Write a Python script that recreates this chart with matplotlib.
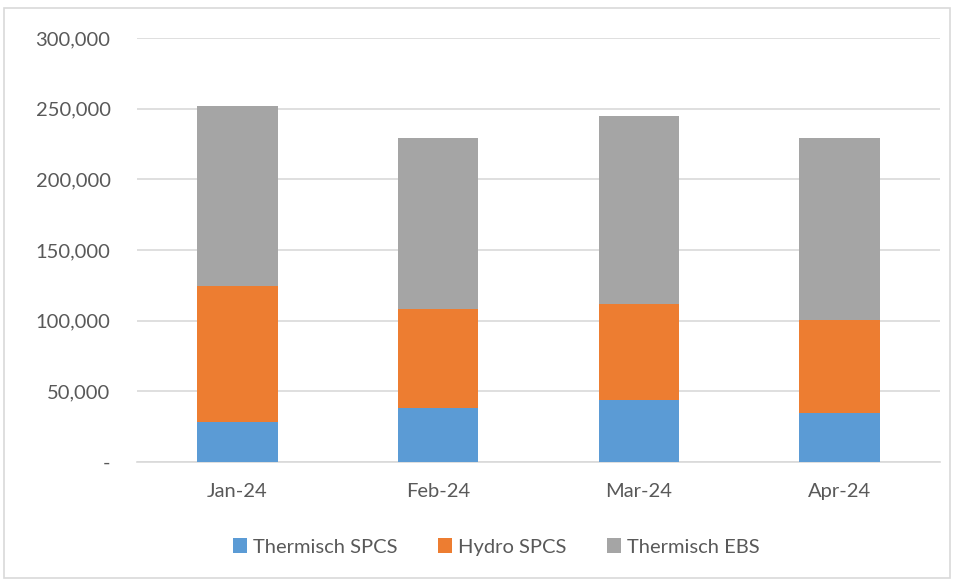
import matplotlib.pyplot as plt
import numpy as np
from matplotlib.patches import Rectangle

# data
months = ["Jan-24", "Feb-24", "Mar-24", "Apr-24"]
thermisch_spcs = [28200, 38400, 43600, 34600]
hydro_spcs = [96500, 69800, 68100, 66200]
thermisch_ebs = [127400, 121000, 132800, 128400]

colors = ["#5b9bd5", "#ed7d31", "#a5a5a5"]
text_col = "#595959"
grid_col = "#d9d9d9"

plt.rcParams['font.family'] = ['Lato', 'DejaVu Sans']

W, H = 954, 581
fig = plt.figure(figsize=(W / 100, H / 100), dpi=100)
ax = fig.add_axes([137 / W, 1 - 462 / H, (940 - 137) / W, (462 - 38) / H])

x = np.arange(len(months))
bw = 0.4
b1 = ax.bar(x, thermisch_spcs, bw, color=colors[0], label="Thermisch SPCS", zorder=3)
bottom2 = np.array(thermisch_spcs)
b2 = ax.bar(x, hydro_spcs, bw, bottom=bottom2, color=colors[1], label="Hydro SPCS", zorder=3)
bottom3 = bottom2 + np.array(hydro_spcs)
b3 = ax.bar(x, thermisch_ebs, bw, bottom=bottom3, color=colors[2], label="Thermisch EBS", zorder=3)

ax.set_xlim(-0.5, len(months) - 0.5)
ax.set_ylim(0, 300000)
yt = np.arange(0, 300001, 50000)
ax.set_yticks(yt)
ax.set_yticklabels(["-" if v == 0 else f"{v:,}" for v in yt])
ax.set_xticks(x)
ax.set_xticklabels(months)
ax.tick_params(length=0, colors=text_col, labelsize=14.5)
ax.tick_params(axis='y', pad=19)
ax.tick_params(axis='x', pad=15)
ax.grid(axis='y', color=grid_col, linewidth=1.2, zorder=0)
for s in ["top", "right", "left"]:
    ax.spines[s].set_visible(False)
ax.spines["bottom"].set_color(grid_col)
ax.spines["bottom"].set_linewidth(1.2)

fig.legend(handles=[b1, b2, b3], loc="center", bbox_to_anchor=(0.52, 1 - 547 / H),
           ncol=3, frameon=False, fontsize=14.5, labelcolor=text_col,
           handlelength=0.7, handleheight=0.7, handletextpad=0.3, columnspacing=2.0)

fig.patches.append(Rectangle((4 / W, 1 - 578 / H), (950 - 4) / W, (578 - 8) / H,
                             transform=fig.transFigure, fill=False,
                             edgecolor=grid_col, linewidth=1.2))

fig.savefig("out.png", dpi=100)
